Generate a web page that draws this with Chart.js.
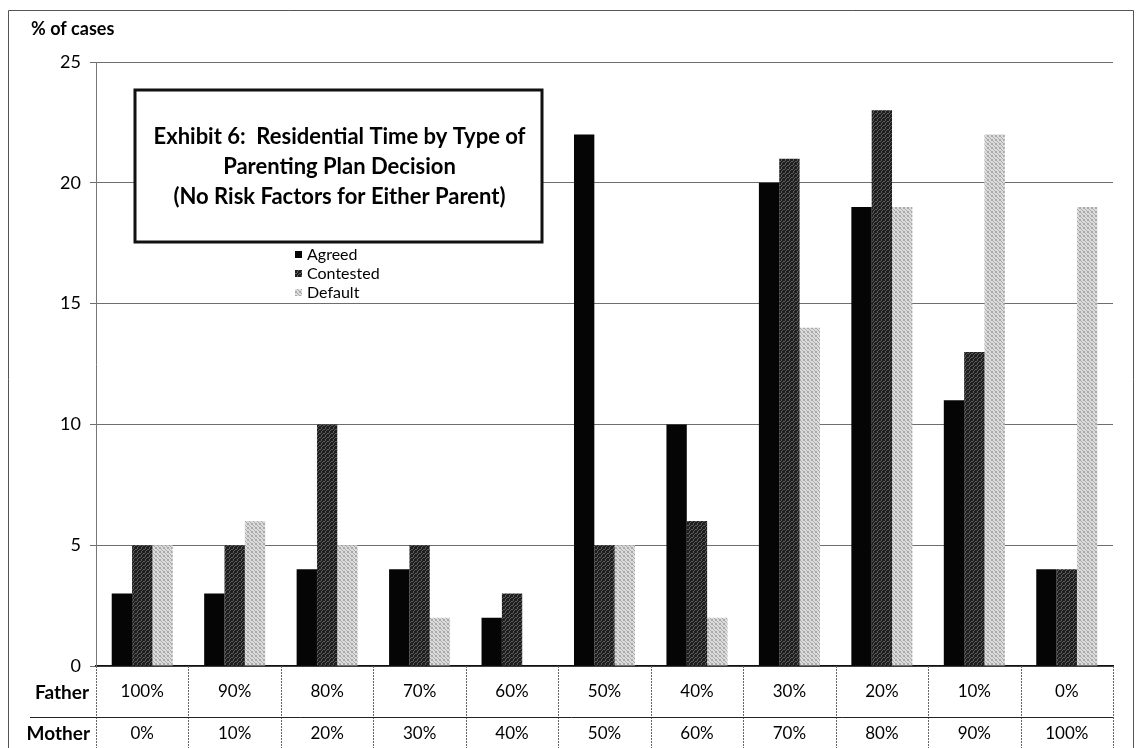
<!DOCTYPE html>
<html>
<head>
<meta charset="utf-8">
<title>Residential Time by Type of Parenting Plan Decision</title>
<script src="https://cdn.jsdelivr.net/npm/chart.js@4.4.1/dist/chart.umd.min.js"></script>
<style>
  html, body { margin: 0; padding: 0; background: #fff; }
  #wrap { position: relative; width: 1136px; height: 748px; }
</style>
</head>
<body>
<div id="wrap"><canvas id="chart"></canvas></div>
<script>
// Residential time split (father / mother) for each category
const fatherShare = ['100%', '90%', '80%', '70%', '60%', '50%', '40%', '30%', '20%', '10%', '0%'];
const motherShare = ['0%', '10%', '20%', '30%', '40%', '50%', '60%', '70%', '80%', '90%', '100%'];
const rowLabels = ['Father', 'Mother'];

// % of cases by type of parenting plan decision
const agreed    = [3, 3, 4, 4, 2, 22, 10, 20, 19, 11, 4];
const contested = [5, 5, 10, 5, 3, 5, 6, 21, 23, 13, 4];
const defaulted = [5, 6, 5, 2, 0, 5, 2, 14, 19, 22, 19];
const seriesNames = ['Agreed', 'Contested', 'Default'];

const yMin = 0, yMax = 25, yStep = 5;
const yTitle = '% of cases';
const titleLines = [
  'Exhibit 6:  Residential Time by Type of',
  'Parenting Plan Decision',
  '(No Risk Factors for Either Parent)'
];

const FONT = 'Lato, "Open Sans", sans-serif';

// Small dithered fills for the textured bars
function ditherPattern(dark, light, mask) {
  const c = document.createElement('canvas');
  c.width = 4; c.height = 4;
  const g = c.getContext('2d');
  for (let y = 0; y < 4; y++) {
    for (let x = 0; x < 4; x++) {
      g.fillStyle = mask[y][x] ? dark : light;
      g.fillRect(x, y, 1, 1);
    }
  }
  return g.createPattern(c, 'repeat');
}
const ctx = document.getElementById('chart').getContext('2d');
const contestedFill = ditherPattern('#1e1e1e', '#5c5c5c',
  [[1,0,1,1],[0,1,1,0],[1,1,0,1],[1,0,1,1]]);
const defaultFill = ditherPattern('#a9a9a9', '#dcdcdc',
  [[1,0,0,1],[0,1,0,0],[0,0,1,0],[1,0,0,1]]);
const fills = ['#050505', contestedFill, defaultFill];

// Frame, title box, legend and the father/mother table under the axis
const decorations = {
  id: 'decorations',
  afterDraw(chart) {
    const g = chart.ctx;
    const xs = chart.scales.x;
    const area = chart.chartArea;
    const H = chart.height;
    const n = fatherShare.length;
    const colW = (xs.right - xs.left) / n;
    const rowMid = 717;

    g.save();

    // outer frame
    g.strokeStyle = '#555';
    g.lineWidth = 1;
    g.beginPath();
    g.moveTo(8.5, H);
    g.lineTo(8.5, 10.5);
    g.lineTo(1133.5, 10.5);
    g.lineTo(1133.5, H);
    g.stroke();

    // axis title
    g.fillStyle = '#000';
    g.font = 'bold 18px ' + FONT;
    g.textAlign = 'left';
    g.textBaseline = 'middle';
    g.fillText(yTitle, 31, 29);

    // table grid
    g.strokeStyle = '#666';
    g.lineWidth = 1;
    g.setLineDash([2, 1]);
    for (let i = 0; i <= n; i++) {
      const x = Math.round(xs.left + i * colW) + 0.5;
      g.beginPath();
      g.moveTo(x, area.bottom);
      g.lineTo(x, H);
      g.stroke();
    }
    g.setLineDash([]);
    g.strokeStyle = '#222';
    g.beginPath();
    g.moveTo(30, rowMid + 0.5);
    g.lineTo(xs.right, rowMid + 0.5);
    g.stroke();

    // table text
    g.font = '17px ' + FONT;
    g.textAlign = 'center';
    for (let i = 0; i < n; i++) {
      const cx = xs.getPixelForValue(i);
      g.fillText(fatherShare[i], cx, 692);
      g.fillText(motherShare[i], cx, 734);
    }
    g.font = 'bold 19px ' + FONT;
    g.textAlign = 'right';
    g.fillText(rowLabels[0], 89, 693);
    g.fillText(rowLabels[1], 90, 734);

    // title box
    const bx = 135, by = 90, bw = 407, bh = 152;
    g.fillStyle = '#fff';
    g.fillRect(bx, by, bw, bh);
    g.strokeStyle = '#111';
    g.lineWidth = 3;
    g.strokeRect(bx, by, bw, bh);
    g.fillStyle = '#000';
    g.font = 'bold 22px ' + FONT;
    g.textAlign = 'center';
    g.textBaseline = 'alphabetic';
    titleLines.forEach((t, i) => g.fillText(t, bx + bw / 2 + 1, 144 + i * 30));

    // legend
    g.font = '16px ' + FONT;
    g.textAlign = 'left';
    g.textBaseline = 'middle';
    chart.data.datasets.forEach((ds, i) => {
      const y = 255 + i * 19;
      g.fillStyle = ds.backgroundColor;
      g.fillRect(295, y - 4, 7, 7);
      g.fillStyle = '#000';
      g.fillText(ds.label, 307, y);
    });

    g.restore();
  }
};

new Chart(ctx, {
  type: 'bar',
  data: {
    labels: fatherShare,
    datasets: [
      { label: seriesNames[0], data: agreed,    backgroundColor: fills[0] },
      { label: seriesNames[1], data: contested, backgroundColor: fills[1] },
      { label: seriesNames[2], data: defaulted, backgroundColor: fills[2] }
    ]
  },
  options: {
    responsive: true,
    maintainAspectRatio: false,
    animation: false,
    layout: { padding: { top: 62, right: 23, left: 0, bottom: 0 } },
    datasets: { bar: { categoryPercentage: 0.66, barPercentage: 1.0, borderWidth: 0 } },
    plugins: {
      legend: { display: false },
      tooltip: { enabled: false }
    },
    scales: {
      x: {
        grid: { display: false },
        ticks: { display: false },
        border: { display: true, color: '#111', width: 1.5 },
        afterFit(scale) { scale.height = 82; }
      },
      y: {
        min: yMin,
        max: yMax,
        ticks: {
          stepSize: yStep,
          color: '#000',
          padding: 9,
          font: { family: FONT, size: 18 }
        },
        grid: { color: '#6e6e6e', lineWidth: 1, tickLength: 6 },
        border: { display: true, color: '#777', width: 1 },
        afterFit(scale) { scale.width = 96; }
      }
    }
  },
  plugins: [decorations]
});
</script>
</body>
</html>
